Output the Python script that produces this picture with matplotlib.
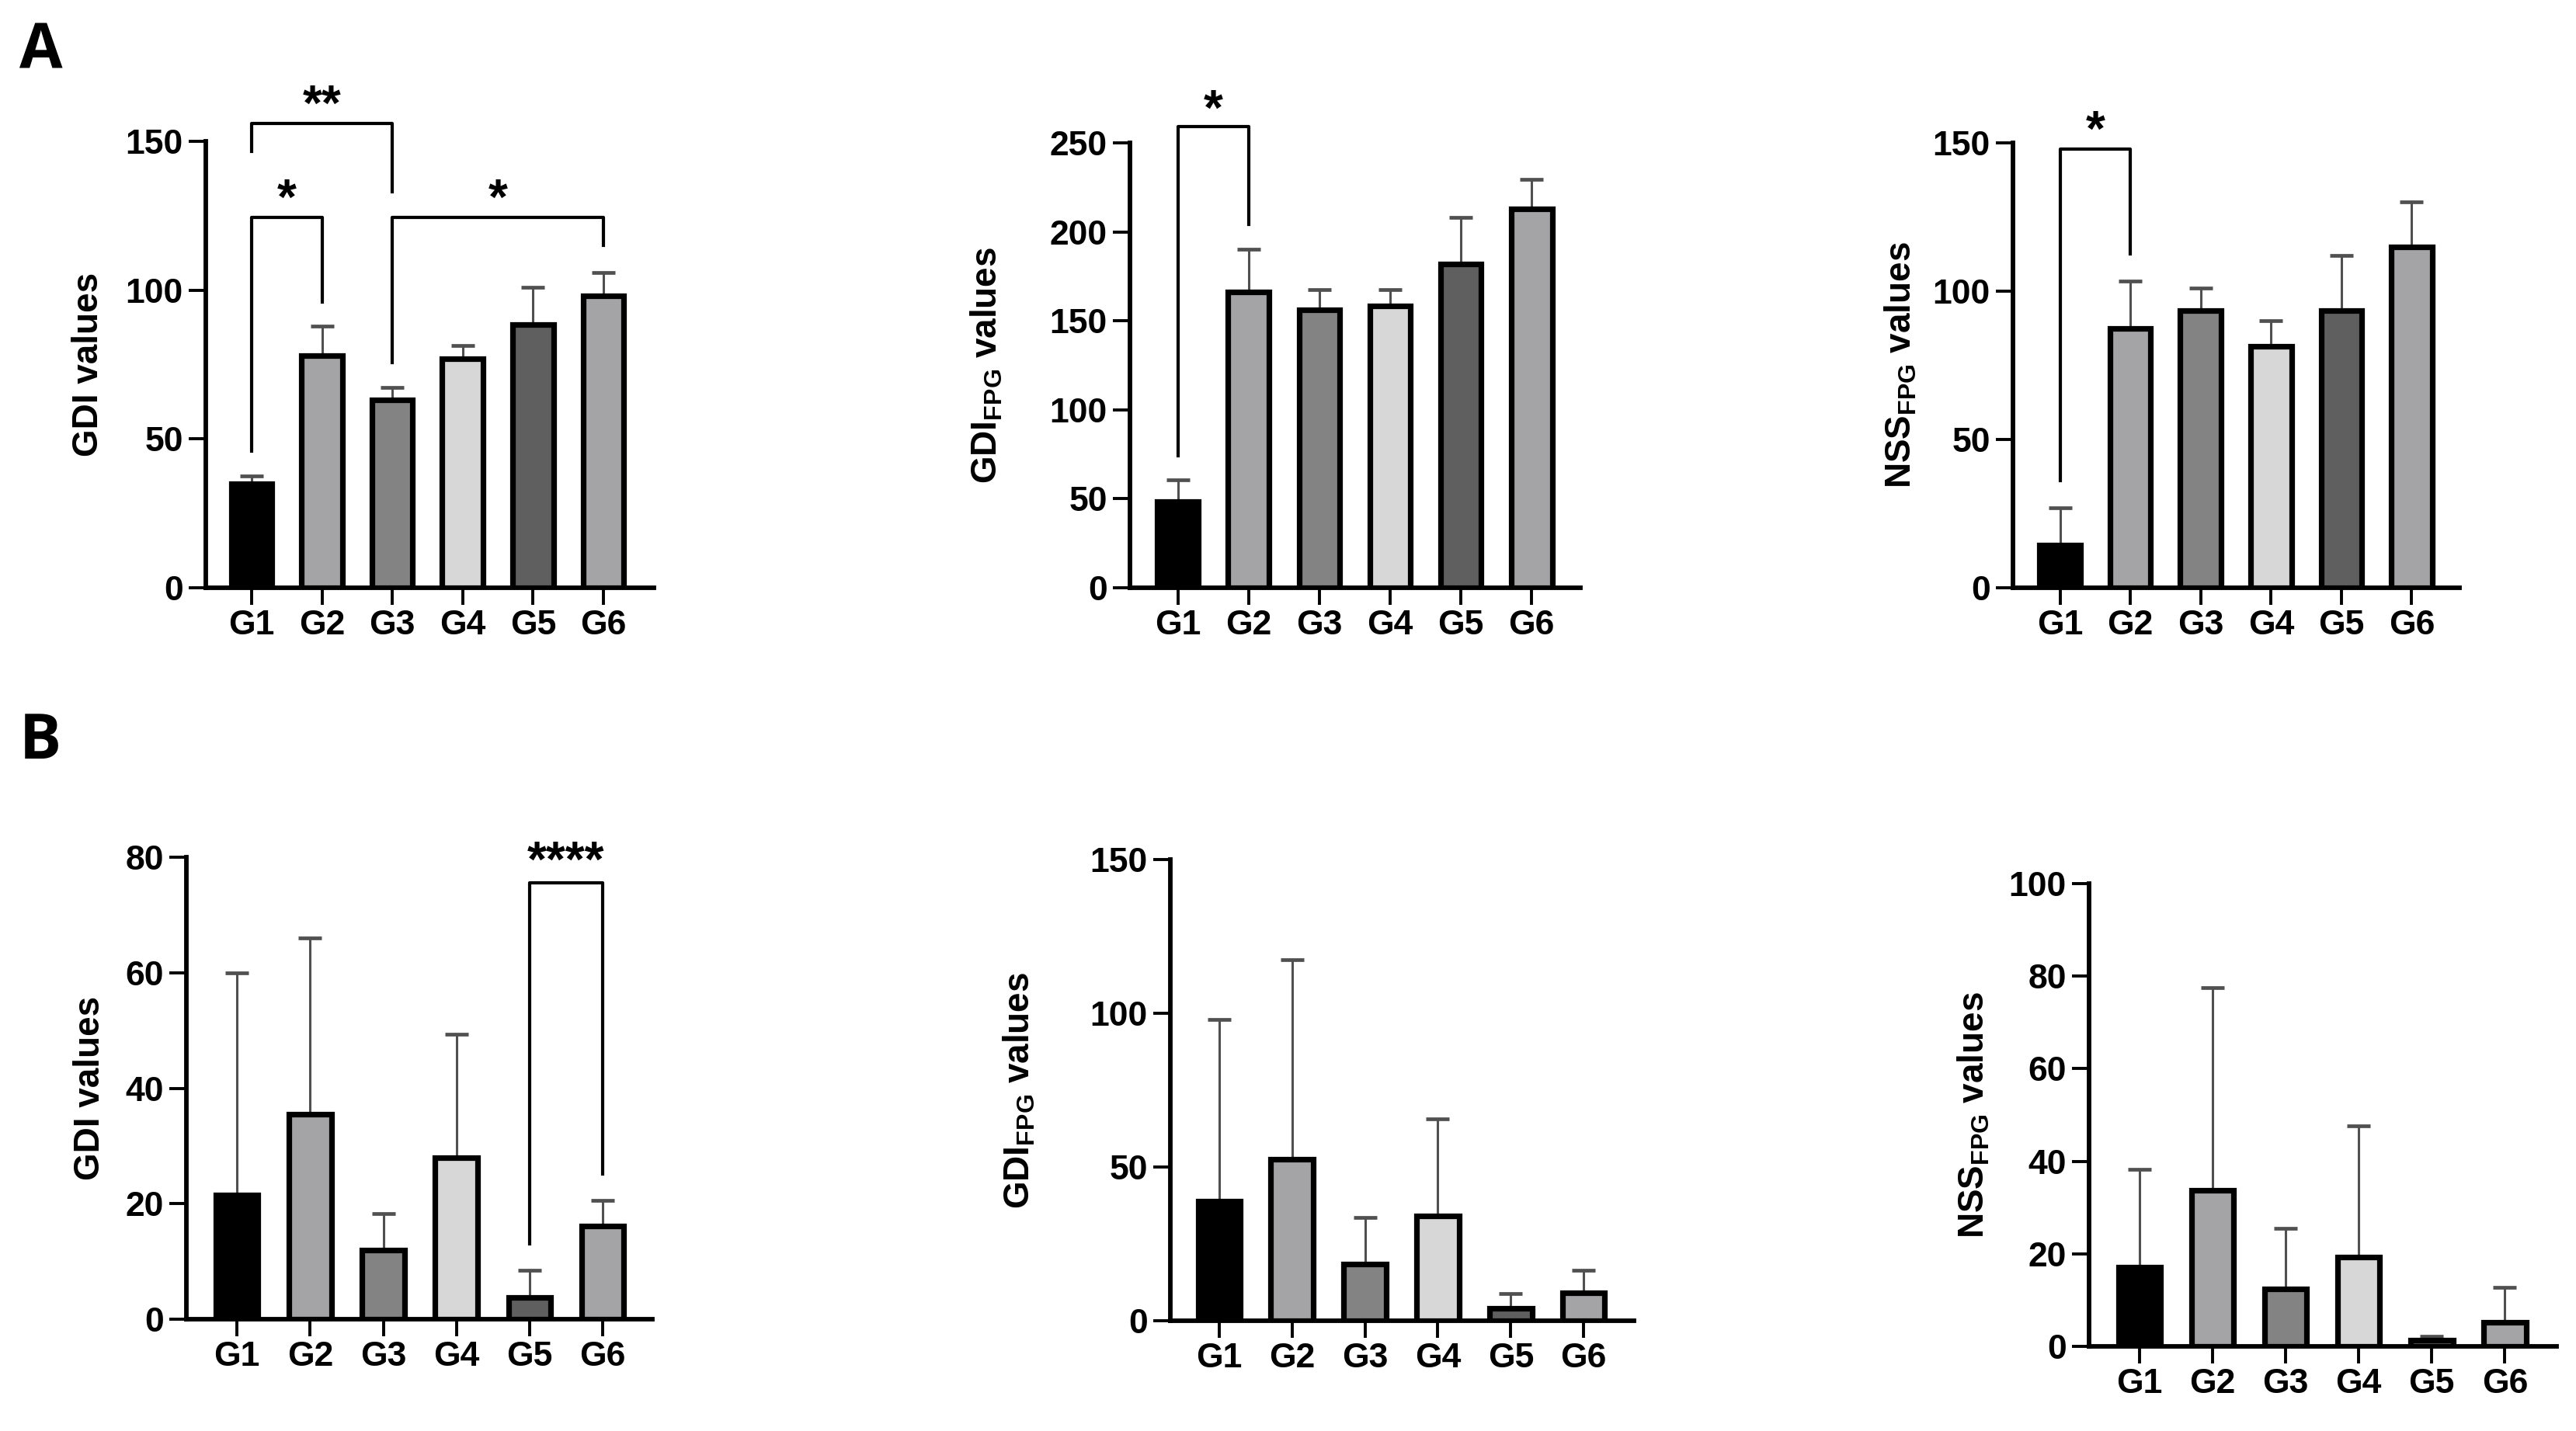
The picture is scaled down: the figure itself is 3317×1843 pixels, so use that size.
import matplotlib
matplotlib.use('Agg')
import matplotlib.pyplot as plt
import numpy as np

plt.rcParams['font.family'] = ['Liberation Sans', 'DejaVu Sans']
plt.rcParams['font.weight'] = 'bold'
plt.rcParams['mathtext.fontset'] = 'custom'
plt.rcParams['mathtext.rm'] = 'Liberation Sans:bold'
plt.rcParams['mathtext.default'] = 'rm'

groups = ['G1', 'G2', 'G3', 'G4', 'G5', 'G6']

# panel A (mean and SD)
gdi_a_mean = [35, 78, 63, 77, 88.5, 98]
gdi_a_sd = [2.5, 10, 4.3, 4.4, 12.5, 8]
gdi_fpg_a_mean = [48.5, 166, 156, 158.5, 182, 213]
gdi_fpg_a_sd = [12, 24, 11.5, 9, 26, 16.5]
nss_fpg_a_mean = [14.5, 87.5, 93.5, 81.5, 93.5, 115]
nss_fpg_a_sd = [12.5, 16, 7.5, 8.5, 18.5, 15]

# panel B
gdi_b_mean = [21.5, 35.5, 12, 28, 3.8, 16.2]
gdi_b_sd = [38.5, 30.5, 6.3, 21.3, 4.7, 4.4]
gdi_fpg_b_mean = [39, 52.5, 18.5, 34, 4, 9]
gdi_fpg_b_sd = [59, 65, 15, 31.7, 4.8, 7.5]
nss_fpg_b_mean = [17.2, 33.8, 12.5, 19.3, 1.4, 5.2]
nss_fpg_b_sd = [21, 43.7, 13, 28.3, 0.8, 7.6]

bar_colors = ['#000000', '#a4a4a7', '#838383', '#d7d7d7', '#5f5f5f', '#a4a4a7']

# significance brackets: (group i, group j, bracket top, left leg end, right leg end, stars, star y)
sig_gdi_a = [(0, 2, 156, 146.5, 133, '**', 161.5),
             (0, 1, 124.5, 46, 96, '*', 130),
             (2, 5, 124.5, 75.5, 115, '*', 130)]
sig_gdi_fpg_a = [(0, 1, 259, 74, 204, '*', 267.5)]
sig_nss_fpg_a = [(0, 1, 148, 36, 112.5, '*', 153.5)]
sig_gdi_b = [(4, 5, 75.6, 13, 25.2, '****', 79)]


def draw_panel(ax, means, sds, top, step, ylabel, xlim, label_x, sigs):
    x = np.arange(len(groups))
    ax.errorbar(x, means, yerr=[np.zeros(len(sds)), sds], fmt='none',
                ecolor='#505050', elinewidth=1.1, capsize=5.5, capthick=1.7,
                zorder=2)
    ax.bar(x, means, width=0.58, color=bar_colors, edgecolor='black',
           linewidth=2.6, zorder=3)

    ax.set_xlim(*xlim)
    ax.set_ylim(0, top)
    ax.set_yticks(np.arange(0, top + 1, step))
    ax.set_xticks(x)
    ax.set_xticklabels(groups)

    for side in ['top', 'right']:
        ax.spines[side].set_visible(False)
    for side in ['left', 'bottom']:
        ax.spines[side].set_linewidth(2.1)

    ax.tick_params(axis='both', direction='out', length=8, width=1.4,
                   labelsize=16)
    ax.tick_params(axis='y', pad=2.5)
    ax.tick_params(axis='x', pad=2)

    ax.set_ylabel(ylabel, fontsize=16.5, fontweight='bold')
    ax.yaxis.label.set_va('center')
    ax.yaxis.set_label_coords(label_x, 0.5)

    for i, j, y_top, y_left, y_right, stars, y_star in sigs:
        ax.plot([i, i, j, j], [y_left, y_top, y_top, y_right],
                color='black', lw=1.5, clip_on=False, zorder=4)
        ax.text((i + j) / 2, y_star, stars, ha='center', va='center',
                fontsize=23, fontweight='bold', clip_on=False)


fig = plt.figure(figsize=(16.585, 9.215), dpi=200)

ax_a1 = fig.add_axes([0.0799, 0.5893, 0.1740, 0.3120])
ax_a2 = fig.add_axes([0.4386, 0.5893, 0.1749, 0.3109])
ax_a3 = fig.add_axes([0.7814, 0.5893, 0.1734, 0.3109])
ax_b1 = fig.add_axes([0.0724, 0.0781, 0.1809, 0.3228])
ax_b2 = fig.add_axes([0.4543, 0.0770, 0.1800, 0.3223])
ax_b3 = fig.add_axes([0.8110, 0.0591, 0.1815, 0.3234])

draw_panel(ax_a1, gdi_a_mean, gdi_a_sd, 150, 50, 'GDI values',
           (-0.65, 5.72), -0.262, sig_gdi_a)
draw_panel(ax_a2, gdi_fpg_a_mean, gdi_fpg_a_sd, 250, 50,
           r'GDI$_{\mathrm{FPG}}$ values', (-0.68, 5.69), -0.317, sig_gdi_fpg_a)
draw_panel(ax_a3, nss_fpg_a_mean, nss_fpg_a_sd, 150, 50,
           r'NSS$_{\mathrm{FPG}}$ values', (-0.67, 5.68), -0.25, sig_nss_fpg_a)
draw_panel(ax_b1, gdi_b_mean, gdi_b_sd, 80, 20, 'GDI values',
           (-0.69, 5.68), -0.207, sig_gdi_b)
draw_panel(ax_b2, gdi_fpg_b_mean, gdi_fpg_b_sd, 150, 50,
           r'GDI$_{\mathrm{FPG}}$ values', (-0.67, 5.69), -0.325, [])
draw_panel(ax_b3, nss_fpg_b_mean, nss_fpg_b_sd, 100, 20,
           r'NSS$_{\mathrm{FPG}}$ values', (-0.69, 5.71), -0.246, [])

fig.text(0.0075, 0.985, 'A', fontsize=29, fontweight='bold',
         family=['Open Sans', 'DejaVu Sans'], ha='left', va='top')
fig.text(0.0075, 0.503, 'B', fontsize=29, fontweight='bold',
         family=['Open Sans', 'DejaVu Sans'], ha='left', va='top')

fig.savefig('out.png', dpi=200, facecolor='white')
